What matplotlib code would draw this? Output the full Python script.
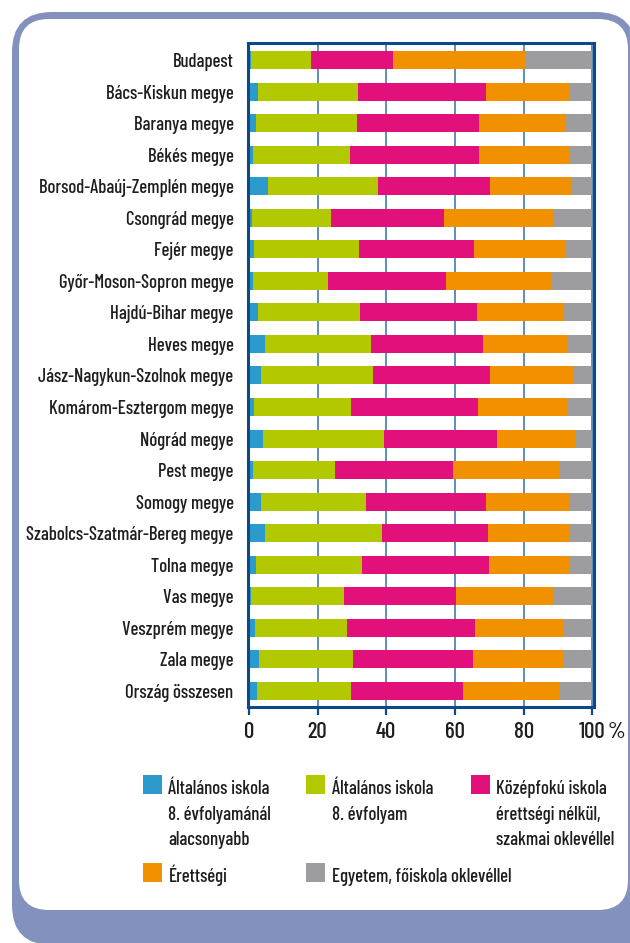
import numpy as np
import matplotlib.pyplot as plt
from matplotlib.patches import FancyBboxPatch, Rectangle

plt.rcParams['font.family'] = ['Barlow Condensed', 'DejaVu Sans']
plt.rcParams['font.weight'] = 500

regions = ['Budapest', 'Bács-Kiskun megye', 'Baranya megye', 'Békés megye',
           'Borsod-Abaúj-Zemplén megye', 'Csongrád megye', 'Fejér megye',
           'Győr-Moson-Sopron megye', 'Hajdú-Bihar megye', 'Heves megye',
           'Jász-Nagykun-Szolnok megye', 'Komárom-Esztergom megye', 'Nógrád megye',
           'Pest megye', 'Somogy megye', 'Szabolcs-Szatmár-Bereg megye', 'Tolna megye',
           'Vas megye', 'Veszprém megye', 'Zala megye', 'Ország összesen']

# shares in percent
below_8 =   [0.7, 2.7, 2.2, 1.3, 5.6, 1.0, 1.6, 1.3, 2.7, 4.8, 3.6, 1.6, 4.2, 1.3, 3.6, 4.8, 2.2, 0.7, 1.9, 3.0, 2.4]
grade_8 =   [17.4, 29.1, 29.3, 28.2, 32.0, 23.0, 30.5, 21.8, 29.7, 30.8, 32.6, 28.2, 35.2, 23.8, 30.5, 34.0, 30.8, 27.0, 26.7, 27.3, 27.4]
vocational = [23.9, 37.2, 35.5, 37.5, 32.6, 32.8, 33.4, 34.3, 34.0, 32.5, 34.0, 36.9, 32.8, 34.3, 34.9, 30.8, 36.9, 32.6, 37.2, 34.9, 32.5]
matura =    [38.5, 24.2, 25.2, 26.3, 23.6, 31.8, 26.5, 30.5, 25.2, 24.5, 24.1, 25.9, 22.9, 31.0, 24.3, 23.5, 23.2, 28.4, 25.8, 26.4, 27.9]
degree =    [19.5, 6.8, 7.8, 6.7, 6.2, 11.4, 8.0, 12.1, 8.4, 7.4, 5.7, 7.4, 4.9, 9.6, 6.7, 6.9, 6.9, 11.3, 8.4, 8.4, 9.8]

series_names = ['Általános iskola\n8. évfolyamánál\nalacsonyabb',
                'Általános iskola\n8. évfolyam',
                'Középfokú iskola\nérettségi nélkül,\nszakmai oklevéllel',
                'Érettségi',
                'Egyetem, főiskola oklevéllel']
colors = ['#2C9ACC', '#B2C800', '#E2107A', '#F29100', '#9D9D9F']

frame_col = '#8291BE'
spine_col = '#0B4A8A'
grid_col = '#4679AE'
text_col = '#1E1E1E'

W, H = 630, 943
fig = plt.figure(figsize=(W / 100, H / 100), dpi=100)

# background frame, in pixel coordinates
bg = fig.add_axes([0, 0, 1, 1], zorder=0)
bg.set_xlim(0, W)
bg.set_ylim(H, 0)
bg.axis('off')
bg.add_patch(FancyBboxPatch((12, 12), 624, 933, boxstyle='round,pad=0,rounding_size=40',
                            fc=frame_col, ec='none'))
bg.add_patch(Rectangle((50, 890), 600, 60, fc=frame_col, ec='none'))
bg.add_patch(FancyBboxPatch((19, 19), 609, 891, boxstyle='round,pad=0,rounding_size=30',
                            fc='white', ec='none'))

# main chart
ax = fig.add_axes([247.5 / W, 1 - 707 / H, (594 - 247.5) / W, (707 - 43) / H], zorder=2)
ax.set_facecolor('white')
y = np.arange(len(regions))
data = [below_8, grade_8, vocational, matura, degree]
left = np.zeros(len(regions))
for vals, c in zip(data, colors):
    vals = np.array(vals)
    ax.barh(y, vals, left=left, height=0.57, color=c, zorder=3)
    left += vals

ax.set_xlim(-0.4, 100.5)
ax.set_ylim(len(regions) - 0.49, -0.54)
ax.set_yticks(y)
ax.set_yticklabels(regions, fontsize=13.5, color=text_col)
ax.set_xticks([0, 20, 40, 60, 80, 100])
ax.set_xticklabels(['0', '20', '40', '60', '80', '100'], fontsize=16.5, color=text_col)
ax.tick_params(axis='y', length=0, pad=10)
ax.tick_params(axis='x', direction='out', length=6, width=1.6, color=spine_col, pad=5)
ax.xaxis.grid(True, color=grid_col, lw=1.2)
ax.set_axisbelow(True)
for s in ax.spines.values():
    s.set_color(spine_col)
    s.set_linewidth(2.2)
    s.set_zorder(4)

bg.text(616, 732, '%', fontsize=16.5, color=text_col, ha='center', va='center')

# legend, one text per line so the line pitch matches
leg_pos = [(143, 775), (306, 775), (471, 775), (143, 863), (306, 863)]
for (lx, ly), name, c in zip(leg_pos, series_names, colors):
    bg.add_patch(Rectangle((lx, ly), 19, 19, fc=c, ec='none'))
    for i, line in enumerate(name.split('\n')):
        bg.text(lx + 25.5, ly + 19 + i * 25.5, line, fontsize=13.5, color=text_col,
                ha='left', va='baseline')

fig.savefig('out.png', dpi=100)
